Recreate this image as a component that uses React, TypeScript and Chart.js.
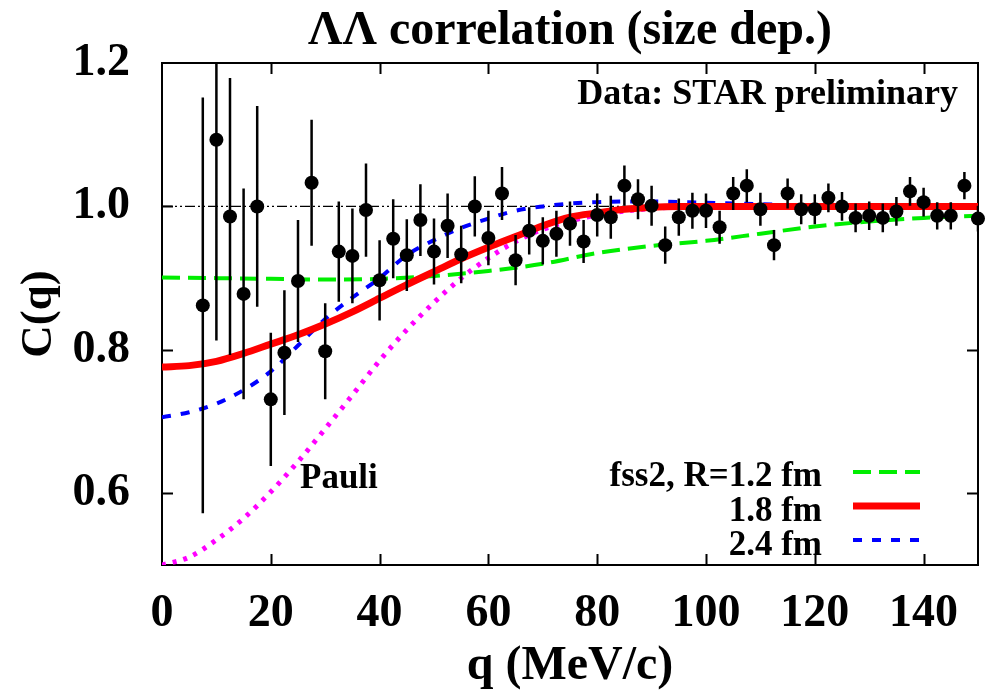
import React, { useEffect, useRef } from "react";
import { Chart, registerables } from "chart.js";

Chart.register(...registerables);

// ---- data ----
const dataQ = [
  7.5, 10, 12.5, 15, 17.5, 20, 22.5, 25, 27.5, 30, 32.5, 35, 37.5, 40, 42.5, 45, 47.5, 50, 52.5, 55,
  57.5, 60, 62.5, 65, 67.5, 70, 72.5, 75, 77.5, 80, 82.5, 85, 87.5, 90, 92.5, 95, 97.5, 100, 102.5, 105,
  107.5, 110, 112.5, 115, 117.5, 120, 122.5, 125, 127.5, 130, 132.5, 135, 137.5, 140, 142.5, 145, 147.5, 150,
];
const dataC = [
  0.862, 1.093, 0.986, 0.878, 1.0, 0.731, 0.796, 0.896, 1.033, 0.798, 0.937, 0.931, 0.995, 0.897, 0.955, 0.932, 0.981, 0.937, 0.973, 0.933,
  1.0, 0.956, 1.018, 0.925, 0.966, 0.952, 0.962, 0.976, 0.951, 0.988, 0.985, 1.029, 1.01, 1.001, 0.946, 0.985, 0.994, 0.994, 0.971, 1.018,
  1.029, 0.996, 0.946, 1.018, 0.996, 0.996, 1.012, 1.0, 0.984, 0.987, 0.984, 0.993, 1.021, 1.006, 0.987, 0.987, 1.029, 0.983,
];
const dataErr = [
  0.29, 0.28, 0.193, 0.147, 0.14, 0.093, 0.087, 0.085, 0.088, 0.067, 0.07, 0.066, 0.065, 0.056, 0.055, 0.05, 0.05, 0.046, 0.045, 0.04,
  0.042, 0.038, 0.037, 0.035, 0.033, 0.033, 0.032, 0.031, 0.03, 0.03, 0.03, 0.028, 0.028, 0.028, 0.026, 0.026, 0.025, 0.024, 0.023, 0.023,
  0.023, 0.023, 0.021, 0.021, 0.021, 0.021, 0.02, 0.02, 0.02, 0.02, 0.02, 0.02, 0.02, 0.02, 0.019, 0.019, 0.019, 0.018,
];

const fss12Q = [0, 10, 20, 30, 40, 50, 60, 70, 80, 90, 100, 110, 120, 130, 140, 150];
const fss12C = [0.901, 0.9, 0.899, 0.898, 0.899, 0.903, 0.91, 0.92, 0.935, 0.945, 0.952, 0.962, 0.972, 0.979, 0.984, 0.987];

const fss18Q = [0, 5, 10, 15, 20, 25, 30, 35, 40, 45, 50, 55, 60, 65, 70, 75, 80, 85, 90, 95, 100, 150];
const fss18C = [0.776, 0.778, 0.784, 0.795, 0.808, 0.821, 0.836, 0.853, 0.872, 0.891, 0.909, 0.927, 0.943, 0.958, 0.973, 0.985, 0.991, 0.996, 0.999, 1.0, 1.0, 1.0];

const fss24Q = [0, 5, 10, 15, 20, 25, 30, 35, 40, 45, 50, 55, 60, 65, 70, 75, 80, 90, 100, 110, 120, 150];
const fss24C = [0.706, 0.713, 0.725, 0.744, 0.77, 0.806, 0.843, 0.873, 0.9, 0.932, 0.953, 0.97, 0.983, 0.994, 1.0, 1.004, 1.006, 1.007, 1.005, 1.003, 1.001, 1.0];

const pauliQ = [0, 5, 10, 15, 20, 25, 30, 35, 40, 45, 50, 55, 60, 65, 70, 80, 90, 100, 150];
const pauliC = [0.5, 0.511, 0.535, 0.565, 0.602, 0.644, 0.69, 0.737, 0.785, 0.828, 0.866, 0.9, 0.928, 0.951, 0.968, 0.988, 0.997, 1.0, 1.0];

const refQ = [0, 150];
const refC = [1.0, 1.0];

const xTickLabels = [0, 20, 40, 60, 80, 100, 120, 140];
const yTickLabels = [0.6, 0.8, 1.0, 1.2];
const xTickMarks = [20, 40, 60, 80, 100, 120, 140];
const yTickMarks = [0.6, 0.8, 1.0];

const titleText = "\u039B\u039B correlation (size dep.)";
const xTitle = "q (MeV/c)";
const yTitle = "C(q)";
const noteText = "Data: STAR preliminary";
const pauliText = "Pauli";
const legendLabels = ["fss2, R=1.2 fm", "1.8 fm", "2.4 fm"];

const FONT = "'Liberation Serif', 'Times New Roman', serif";
const GREEN = "#00ee00";
const RED = "#ff0000";
const BLUE = "#0000ff";
const MAGENTA = "#ff00ff";

const toXY = (xs: number[], ys: number[]) => xs.map((x, i) => ({ x, y: ys[i] }));

const decorPlugin = {
  id: "decor",
  beforeDatasetsDraw(chart: any) {
    const { ctx, chartArea: a, scales } = chart;
    const x = scales.x;
    const y = scales.y;
    ctx.save();
    ctx.strokeStyle = "#000";
    ctx.lineWidth = 2;
    ctx.strokeRect(a.left, a.top, a.right - a.left, a.bottom - a.top);
    ctx.lineWidth = 2;
    const tl = 11;
    ctx.beginPath();
    xTickMarks.forEach((v) => {
      const px = Math.round(x.getPixelForValue(v)) + 0.5;
      ctx.moveTo(px, a.bottom);
      ctx.lineTo(px, a.bottom - tl);
      ctx.moveTo(px, a.top);
      ctx.lineTo(px, a.top + tl);
    });
    yTickMarks.forEach((v) => {
      const py = Math.round(y.getPixelForValue(v)) + 0.5;
      ctx.moveTo(a.left, py);
      ctx.lineTo(a.left + tl, py);
      ctx.moveTo(a.right, py);
      ctx.lineTo(a.right - tl, py);
    });
    ctx.stroke();
    ctx.restore();
  },
  beforeDatasetDraw(chart: any, args: any) {
    if (args.index !== 0) return;
    const { ctx, chartArea: a, scales } = chart;
    const x = scales.x;
    const y = scales.y;
    ctx.save();
    ctx.beginPath();
    ctx.rect(a.left, a.top, a.right - a.left, a.bottom - a.top);
    ctx.clip();
    ctx.strokeStyle = "#000";
    ctx.lineWidth = 2.5;
    ctx.beginPath();
    dataQ.forEach((q, i) => {
      const px = x.getPixelForValue(q);
      ctx.moveTo(px, y.getPixelForValue(dataC[i] + dataErr[i]));
      ctx.lineTo(px, y.getPixelForValue(dataC[i] - dataErr[i]));
    });
    ctx.stroke();
    ctx.restore();
  },
  afterDraw(chart: any) {
    const { ctx, chartArea: a } = chart;
    ctx.save();
    ctx.fillStyle = "#000";
    // title
    ctx.font = `bold 48px ${FONT}`;
    ctx.textAlign = "center";
    ctx.textBaseline = "alphabetic";
    ctx.fillText(titleText, (a.left + a.right) / 2, 44);
    // note
    ctx.font = `bold 36px ${FONT}`;
    ctx.textAlign = "right";
    ctx.fillText(noteText, a.right - 20, 104);
    // Pauli
    ctx.font = `bold 35px ${FONT}`;
    ctx.textAlign = "left";
    ctx.fillText(pauliText, 300, 488);
    // legend
    ctx.font = `bold 35px ${FONT}`;
    ctx.textAlign = "right";
    const baselines = [486, 521, 555];
    const lineY = [472, 506, 540];
    legendLabels.forEach((t, i) => ctx.fillText(t, 822, baselines[i]));
    ctx.lineCap = "butt";
    // green
    ctx.strokeStyle = GREEN;
    ctx.lineWidth = 4;
    ctx.setLineDash([18, 8]);
    ctx.beginPath();
    ctx.moveTo(853, lineY[0]);
    ctx.lineTo(920, lineY[0]);
    ctx.stroke();
    // red
    ctx.strokeStyle = RED;
    ctx.lineWidth = 7;
    ctx.setLineDash([]);
    ctx.beginPath();
    ctx.moveTo(853, lineY[1]);
    ctx.lineTo(920, lineY[1]);
    ctx.stroke();
    // blue
    ctx.strokeStyle = BLUE;
    ctx.lineWidth = 4;
    ctx.setLineDash([9, 10]);
    ctx.beginPath();
    ctx.moveTo(853, lineY[2]);
    ctx.lineTo(920, lineY[2]);
    ctx.stroke();
    ctx.restore();
  },
};

export default function App() {
  const ref = useRef<HTMLCanvasElement | null>(null);
  useEffect(() => {
    if (!ref.current) return;
    const chart = new Chart(ref.current, {
      type: "scatter",
      data: {
        datasets: [
          {
            label: "data",
            data: toXY(dataQ, dataC),
            pointRadius: 7,
            pointBackgroundColor: "#000",
            pointBorderWidth: 0,
            showLine: false,
            order: 0,
            clip: false,
          } as any,
          {
            label: "1.8 fm",
            data: toXY(fss18Q, fss18C),
            showLine: true,
            borderColor: RED,
            borderWidth: 7,
            pointRadius: 0,
            cubicInterpolationMode: "monotone",
            order: 1,
          },
          {
            label: "2.4 fm",
            data: toXY(fss24Q, fss24C),
            showLine: true,
            borderColor: BLUE,
            borderWidth: 4,
            borderDash: [9, 10],
            pointRadius: 0,
            cubicInterpolationMode: "monotone",
            order: 2,
          },
          {
            label: "fss2, R=1.2 fm",
            data: toXY(fss12Q, fss12C),
            showLine: true,
            borderColor: GREEN,
            borderWidth: 4,
            borderDash: [18, 8],
            pointRadius: 0,
            cubicInterpolationMode: "monotone",
            order: 3,
          },
          {
            label: "Pauli",
            data: toXY(pauliQ, pauliC),
            showLine: true,
            borderColor: MAGENTA,
            borderWidth: 5,
            borderDash: [4, 7],
            pointRadius: 0,
            cubicInterpolationMode: "monotone",
            order: 4,
          },
          {
            label: "ref",
            data: toXY(refQ, refC),
            showLine: true,
            borderColor: "#000",
            borderWidth: 1.2,
            borderDash: [10, 3, 2, 3, 2, 3],
            pointRadius: 0,
            order: 5,
          },
        ],
      },
      options: {
        responsive: false,
        animation: false,
        layout: { padding: { top: 63, right: 8, left: 0, bottom: 0 } },
        plugins: {
          legend: { display: false },
          title: { display: false },
          tooltip: { enabled: false },
        },
        scales: {
          x: {
            type: "linear",
            min: 0,
            max: 150,
            grid: { display: false, drawTicks: false },
            border: { display: false },
            afterBuildTicks: (s: any) => {
              s.ticks = xTickLabels.map((v) => ({ value: v }));
            },
            afterFit: (s: any) => {
              s.height = 132;
            },
            ticks: {
              autoSkip: false,
              maxRotation: 0,
              padding: 22,
              color: "#000",
              font: { family: FONT, size: 46, weight: "bold" },
              callback: (v: any) => String(v),
            },
            title: {
              display: true,
              text: xTitle,
              color: "#000",
              font: { family: FONT, size: 48, weight: "bold" },
              padding: { top: 0, bottom: 2 },
            },
          },
          y: {
            type: "linear",
            min: 0.5,
            max: 1.2,
            grid: { display: false, drawTicks: false },
            border: { display: false },
            afterBuildTicks: (s: any) => {
              s.ticks = yTickLabels.map((v) => ({ value: v }));
            },
            afterFit: (s: any) => {
              s.width = 162;
            },
            ticks: {
              autoSkip: false,
              padding: 32,
              color: "#000",
              font: { family: FONT, size: 46, weight: "bold" },
              callback: (v: any) => Number(v).toFixed(1),
            },
            title: {
              display: true,
              text: yTitle,
              color: "#000",
              font: { family: FONT, size: 45, weight: "bold" },
              padding: { top: 12, bottom: 0 },
            },
          },
        },
      },
      plugins: [decorPlugin],
    } as any);
    return () => chart.destroy();
  }, []);

  return (
    <div style={{ position: "absolute", left: 0, top: 0, width: 986, height: 697, background: "#fff" }}>
      <canvas ref={ref} width={986} height={697} style={{ display: "block" }} />
    </div>
  );
}
